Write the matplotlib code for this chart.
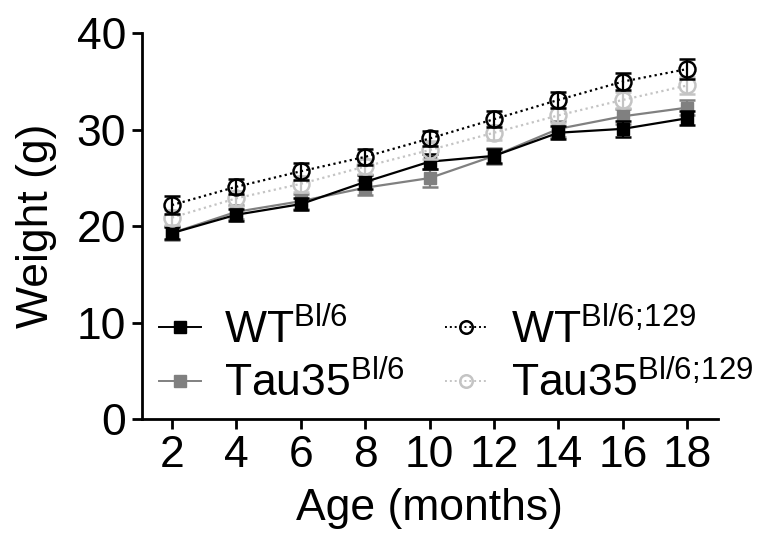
import matplotlib
matplotlib.use("Agg")
import matplotlib.pyplot as plt

plt.rcParams['font.family'] = ['Liberation Sans', 'DejaVu Sans']
plt.rcParams['mathtext.fontset'] = 'custom'
plt.rcParams['mathtext.rm'] = 'Liberation Sans'
plt.rcParams['mathtext.it'] = 'Liberation Sans'

age = [2, 4, 6, 8, 10, 12, 14, 16, 18]

wt_bl6 = [19.3, 21.2, 22.3, 24.6, 26.7, 27.3, 29.7, 30.1, 31.2]
wt_bl6_err = [0.6, 0.6, 0.6, 0.7, 0.8, 0.7, 0.7, 0.8, 0.7]

tau_bl6 = [19.3, 21.5, 22.6, 24.0, 25.0, 27.3, 30.1, 31.4, 32.3]
tau_bl6_err = [0.7, 0.7, 0.8, 0.8, 0.9, 0.8, 0.8, 0.8, 0.8]

wt_129 = [22.2, 24.1, 25.7, 27.2, 29.1, 31.1, 33.1, 35.0, 36.3]
wt_129_err = [0.9, 0.8, 0.9, 0.8, 0.8, 0.8, 0.8, 0.9, 1.0]

tau_129 = [20.9, 22.9, 24.4, 26.2, 27.9, 29.7, 31.5, 33.1, 34.6]
tau_129_err = [0.8, 0.8, 0.8, 0.8, 0.9, 0.8, 0.8, 0.8, 0.9]

labels = [r'WT$^{\mathrm{Bl/6}}$', r'Tau35$^{\mathrm{Bl/6}}$',
          r'WT$^{\mathrm{Bl/6;\!129}}$', r'Tau35$^{\mathrm{Bl/6;\!129}}$']

fig = plt.figure(figsize=(7.74, 5.33), dpi=100)
ax = fig.add_axes([0.183, 0.2133, 0.7446, 0.7242])

common = dict(capsize=6, elinewidth=1.6, capthick=1.8)

h1 = ax.errorbar(age, wt_bl6, yerr=wt_bl6_err, color='black', ls='-', lw=1.6,
                 marker='s', ms=9, mfc='black', mec='black', zorder=3, **common)
h2 = ax.errorbar(age, tau_bl6, yerr=tau_bl6_err, color='#808080', ls='-', lw=1.6,
                 marker='s', ms=9, mfc='#808080', mec='#808080', zorder=2, **common)
h4 = ax.errorbar(age, tau_129, yerr=tau_129_err, color='#c4c4c4', ls=(0, (1, 1.5)), lw=1.6,
                 marker='o', ms=11.5, mfc='none', mec='#c4c4c4', mew=1.8, zorder=4, **common)
h3 = ax.errorbar(age, wt_129, yerr=wt_129_err, color='black', ls=(0, (1, 1.5)), lw=1.6,
                 marker='o', ms=11.5, mfc='none', mec='black', mew=1.8, zorder=5, **common)

ax.set_xlim(1.06, 18.95)
ax.set_ylim(0, 40)
ax.set_xticks(age)
ax.set_yticks([0, 10, 20, 30, 40])

for s in ['top', 'right']:
    ax.spines[s].set_visible(False)
for s in ['left', 'bottom']:
    ax.spines[s].set_linewidth(2)

ax.tick_params(axis='both', which='major', length=7.2, width=2, labelsize=32, pad=4)
ax.set_xlabel('Age (months)', fontsize=32, labelpad=9)
ax.set_ylabel('Weight (g)', fontsize=32, labelpad=14)

leg = ax.legend([h1[0], h2[0], h3[0], h4[0]], labels, ncol=2, frameon=False,
                loc='center left', bbox_to_anchor=(0.030, 0.163),
                fontsize=32, handlelength=0.95, handletextpad=0.52,
                columnspacing=0.9, labelspacing=0.2, borderaxespad=0, borderpad=0)
for lh in leg.legend_handles:
    lh.set_markersize(9)
    lh.set_linewidth(1.4)

fig.savefig('out.png', dpi=100)
